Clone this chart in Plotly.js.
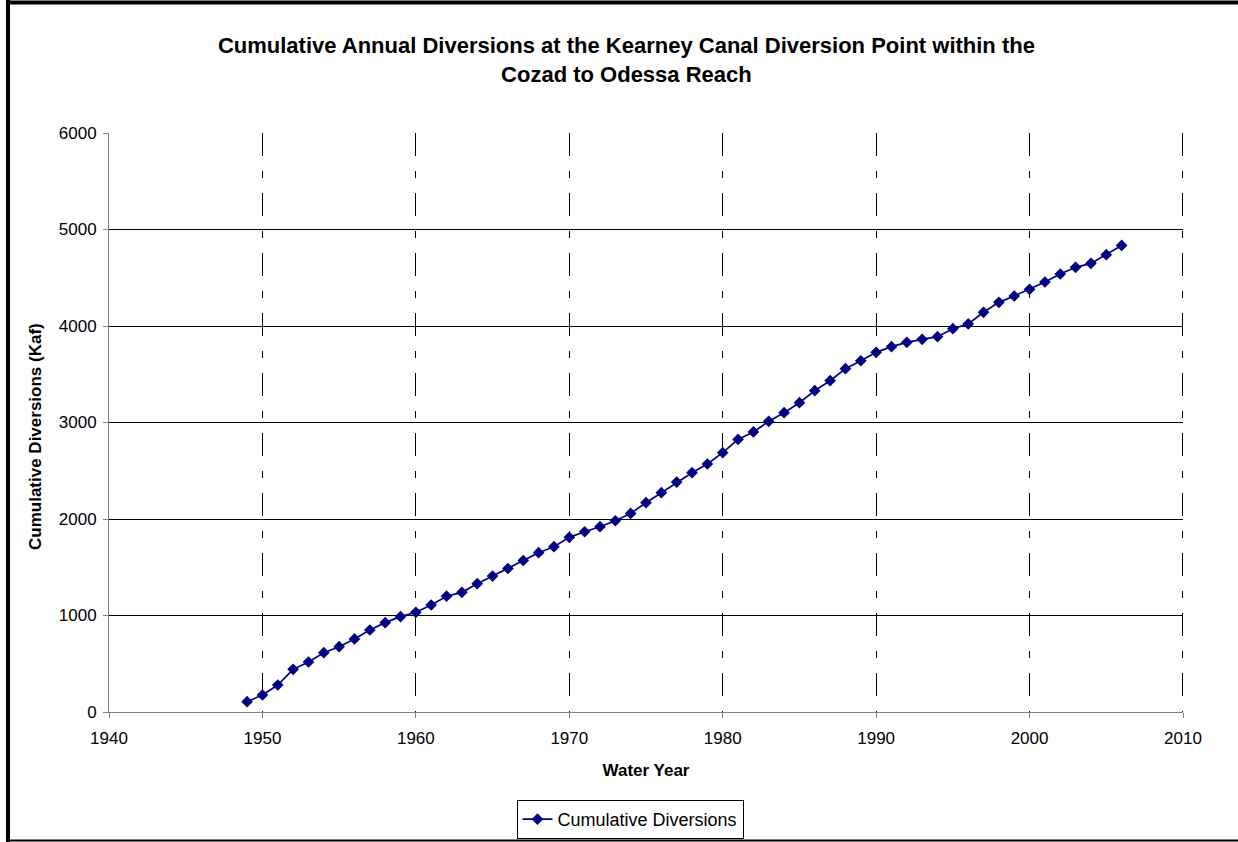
<!DOCTYPE html>
<html>
<head>
<meta charset="utf-8">
<script src="https://cdn.plot.ly/plotly-3.0.1.min.js"></script>
<style>
  html, body { margin: 0; padding: 0; background: #fff; }
  #chart { width: 1238px; height: 842px; }
</style>
</head>
<body>
<div id="chart"></div>
<script>
const years = [1949,1950,1951,1952,1953,1954,1955,1956,1957,1958,1959,
  1960,1961,1962,1963,1964,1965,1966,1967,1968,1969,
  1970,1971,1972,1973,1974,1975,1976,1977,1978,1979,
  1980,1981,1982,1983,1984,1985,1986,1987,1988,1989,
  1990,1991,1992,1993,1994,1995,1996,1997,1998,1999,
  2000,2001,2002,2003,2004,2005,2006];
const cumulativeDiversions = [107,176,280,442,518,615,677,757,850,926,988,
  1033,1109,1200,1240,1330,1409,1487,1570,1651,1713,
  1810,1868,1920,1982,2058,2169,2273,2383,2480,2570,
  2687,2825,2902,3012,3102,3205,3330,3433,3558,3640,
  3727,3786,3831,3862,3889,3972,4021,4142,4245,4311,
  4380,4456,4539,4608,4649,4739,4835];
const xTickVals = [1940,1950,1960,1970,1980,1990,2000,2010];
const seriesName = 'Cumulative Diversions';
const chartTitle = 'Cumulative Annual Diversions at the Kearney Canal Diversion Point within the<br>Cozad to Odessa Reach';
const xTitle = 'Water Year';
const yTitle = 'Cumulative Diversions (Kaf)';

const font = 'Liberation Sans, Arial, sans-serif';
const W = 1238, H = 842;
const M = { l: 109, r: 55, t: 133, b: 130 };
const pw = W - M.l - M.r, ph = H - M.t - M.b;
const px = v => (v - M.l) / pw;
const py = v => (H - M.b - v) / ph;
const gridDash = '23px,15px,7px,15px';

const trace = {
  x: years, y: cumulativeDiversions, name: seriesName,
  type: 'scatter', mode: 'lines+markers',
  line: { color: '#000080', width: 1.7 },
  marker: { symbol: 'diamond', size: 9, color: '#000080' }
};

const xMin = xTickVals[0];
const xMax = xTickVals[xTickVals.length - 1];
const halfPx = 0.5 * (xMax - xMin) / pw;

const layout = {
  width: W, height: H,
  paper_bgcolor: '#fff', plot_bgcolor: '#fff',
  margin: { l: M.l, r: M.r, t: M.t, b: M.b, autoexpand: false },
  font: { family: font, color: '#000', size: 17 },
  title: {
    text: chartTitle,
    font: { family: font, size: 22, weight: 'bold', color: '#000' },
    xref: 'container', x: 0.506, xanchor: 'center',
    yref: 'container', y: 1 - 53/842, yanchor: 'top'
  },
  xaxis: {
    range: [xMin, xMax], tickvals: xTickVals,
    ticktext: xTickVals.map(String),
    showgrid: true, gridcolor: '#000', gridwidth: 1, griddash: gridDash,
    showline: true, linecolor: '#808080', linewidth: 1,
    ticks: 'outside', ticklen: 5, tickcolor: '#808080',
    zeroline: false, ticklabelstandoff: 6,
    tickfont: { family: font, size: 17, color: '#000' },
    title: { text: xTitle, font: { family: font, size: 17, weight: 'bold', color: '#000' }, standoff: 16 }
  },
  yaxis: {
    range: [0, 6000], dtick: 1000, tick0: 0,
    showgrid: true, gridcolor: '#000', gridwidth: 1,
    showline: true, linecolor: '#808080', linewidth: 1,
    ticks: 'outside', ticklen: 5, tickcolor: '#808080',
    zeroline: false, ticklabelstandoff: 3,
    tickfont: { family: font, size: 17, color: '#000' }
  },
  annotations: [
    { text: yTitle, textangle: -90, showarrow: false,
      xref: 'paper', yref: 'paper', x: px(36), y: py(437), xanchor: 'center', yanchor: 'middle',
      font: { family: font, size: 17, weight: 'bold', color: '#000' } }
  ],
  showlegend: true,
  legend: {
    x: px(630), xanchor: 'center', y: py(800), yanchor: 'top',
    orientation: 'h',
    bordercolor: '#000', borderwidth: 1, bgcolor: '#fff',
    font: { family: font, size: 18, color: '#000' }
  },
  shapes: [
    // gridline at the right end of the x range (Plotly omits it at the edge), drawn top-down like the others
    { type: 'line', xref: 'x', yref: 'paper', x0: xMax - halfPx, x1: xMax - halfPx, y0: 1, y1: 0,
      line: { color: '#000', width: 1, dash: gridDash }, layer: 'below' },
    // outer chart frame
    { type: 'line', xref: 'paper', yref: 'paper', x0: px(8), x1: px(8), y0: py(0), y1: py(842),
      line: { color: '#000', width: 4 } },
    { type: 'line', xref: 'paper', yref: 'paper', x0: px(6), x1: px(1240), y0: py(2.5), y1: py(2.5),
      line: { color: '#000', width: 4 } },
    { type: 'line', xref: 'paper', yref: 'paper', x0: px(6), x1: px(1240), y0: py(840.5), y1: py(840.5),
      line: { color: '#000', width: 2 } }
  ]
};

Plotly.newPlot('chart', [trace], layout, { displayModeBar: false, staticPlot: true });
</script>
</body>
</html>
